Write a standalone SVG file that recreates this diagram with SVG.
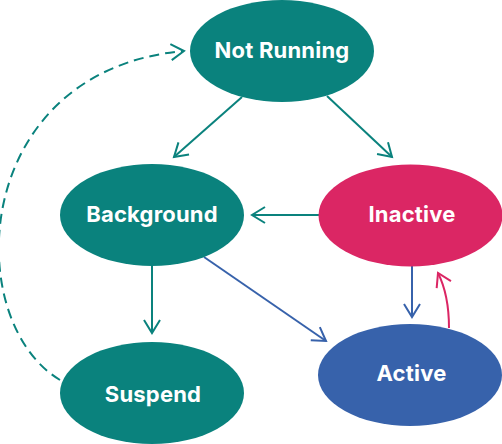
<svg xmlns="http://www.w3.org/2000/svg" width="502" height="444" viewBox="0 0 502 444">
<defs>
<style>
.lbl{font-family:Inter,"Noto Sans","Liberation Sans",sans-serif;font-weight:700;font-size:22px;letter-spacing:0.2px;fill:#ffffff;text-anchor:middle}
.e{stroke:none}
.c{fill:none;stroke-width:2;stroke-linecap:butt}
.teal{stroke:#0a827d}
.blue{stroke:#3762ab}
.pink{stroke:#db2664}
</style>
<marker id="aT" viewBox="0 0 16 18" refX="14" refY="9" markerWidth="16" markerHeight="18" markerUnits="userSpaceOnUse" orient="auto" overflow="visible"><path d="M1,1 L14,9 L1,17" fill="none" stroke="#0a827d" stroke-width="2" stroke-linejoin="miter"/></marker>
<marker id="aB" viewBox="0 0 16 18" refX="14" refY="9" markerWidth="16" markerHeight="18" markerUnits="userSpaceOnUse" orient="auto" overflow="visible"><path d="M1,1 L14,9 L1,17" fill="none" stroke="#3762ab" stroke-width="2" stroke-linejoin="miter"/></marker>
<marker id="aP" viewBox="0 0 16 18" refX="14" refY="9" markerWidth="16" markerHeight="18" markerUnits="userSpaceOnUse" orient="auto" overflow="visible"><path d="M1,1 L14,9 L1,17" fill="none" stroke="#db2664" stroke-width="2" stroke-linejoin="miter"/></marker>
</defs>
<g id="connectors">
<path class="c teal" d="M242,97 L174,157" marker-end="url(#aT)"/>
<path class="c teal" d="M327,96 L392,157" marker-end="url(#aT)"/>
<path class="c teal" d="M319,215 L252,215" marker-end="url(#aT)"/>
<path class="c teal" d="M152,266 L152,333" marker-end="url(#aT)"/>
<path class="c blue" d="M204,257 L326,341" marker-end="url(#aB)"/>
<path class="c blue" d="M412,266 L412,317" marker-end="url(#aB)"/>
<path class="c pink" d="M449,328 Q449,295 438,273" marker-end="url(#aP)"/>
<path class="c teal" d="M60,380 C-40,320 -30,70 184,51" stroke-dasharray="10 6" marker-end="url(#aT)"/>
</g>
<g id="not-running"><ellipse class="e" cx="282" cy="51" rx="92" ry="51" fill="#0a827d"/><text class="lbl" x="282" y="57.5">Not Running</text></g>
<g id="background"><ellipse class="e" cx="152" cy="215" rx="92" ry="51" fill="#0a827d"/><text class="lbl" x="152" y="221.5">Background</text></g>
<g id="inactive"><ellipse class="e" cx="410.5" cy="215.5" rx="92" ry="51" fill="#db2664"/><text class="lbl" x="412" y="222">Inactive</text></g>
<g id="suspend"><ellipse class="e" cx="152" cy="393" rx="92" ry="51" fill="#0a827d"/><text class="lbl" x="153" y="402">Suspend</text></g>
<g id="active"><ellipse class="e" cx="410" cy="375" rx="92" ry="51" fill="#3762ab"/><text class="lbl" x="411.5" y="380.5">Active</text></g>
</svg>
